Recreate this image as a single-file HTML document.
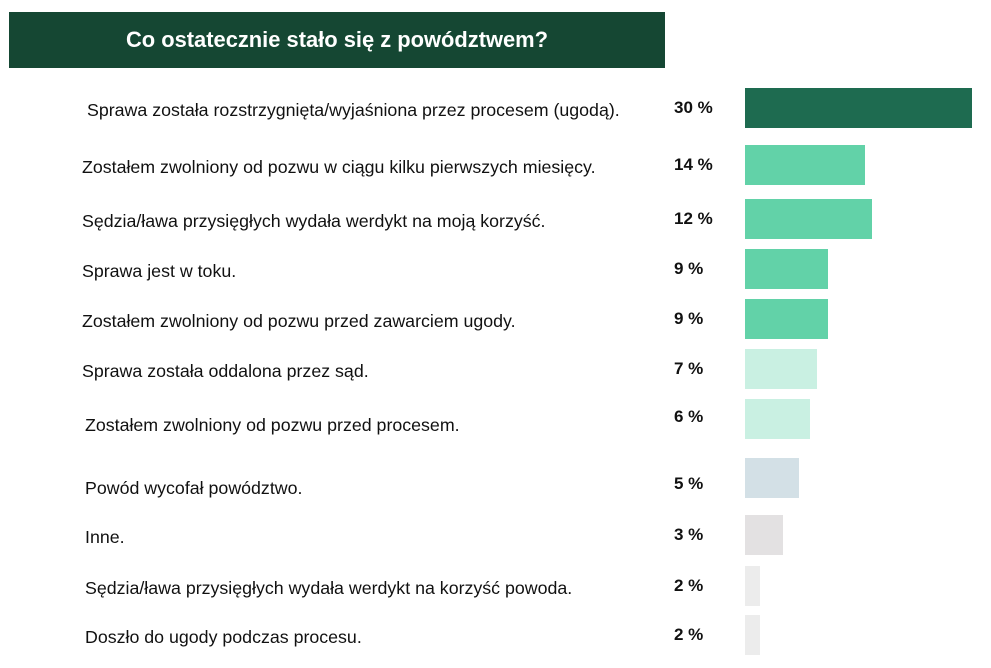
<!DOCTYPE html>
<html><head><meta charset="utf-8">
<style>
body{margin:0;width:991px;height:668px;background:#fff;position:relative;overflow:hidden;font-family:"Liberation Sans",sans-serif;}
#title{position:absolute;left:9px;top:12px;width:656px;height:56px;background:#154733;color:#fff;font-weight:bold;font-size:21.9px;line-height:56px;text-align:center;}
.lbl{position:absolute;font-size:17.8px;color:#111;white-space:nowrap;}
.pct{position:absolute;font-size:17px;font-weight:bold;color:#111;}
.bar{position:absolute;}
</style></head><body>
<div id="title">Co ostatecznie stało się z powództwem?</div>
<div id="chart"></div>
<script>
const categories=["Sprawa została rozstrzygnięta/wyjaśniona przez procesem (ugodą).","Zostałem zwolniony od pozwu w ciągu kilku pierwszych miesięcy.","Sędzia/ława przysięgłych wydała werdykt na moją korzyść.","Sprawa jest w toku.","Zostałem zwolniony od pozwu przed zawarciem ugody.","Sprawa została oddalona przez sąd.","Zostałem zwolniony od pozwu przed procesem.","Powód wycofał powództwo.","Inne.","Sędzia/ława przysięgłych wydała werdykt na korzyść powoda.","Doszło do ugody podczas procesu."];
const pctLabels=["30 %","14 %","12 %","9 %","9 %","7 %","6 %","5 %","3 %","2 %","2 %"];
const barValues=[30,15.8,16.8,11,11,9.5,8.6,7.2,5,2,2];
const colors=["#1e6b50","#62d2a8","#62d2a8","#62d2a8","#62d2a8","#c9f0e2","#c9f0e2","#d3e0e6","#e3e1e2","#ececec","#ececec"];
const rowTops=[88,145,199,249,299,349,399,458,515,566,615];
const labelX=[87,82,82,82,82,82,85,85,85,85,85];
const x0=745, xScale=v=>v*227/30;
const chart=document.getElementById('chart');
categories.forEach((c,i)=>{
  const top=rowTops[i];
  const l=document.createElement('div');l.className='lbl';
  
  
  l.style.left=labelX[i]+'px';l.style.top=(top+12+(i==6?4:0)+(i==7?8:0))+'px';l.textContent=c;chart.appendChild(l);
  const p=document.createElement('div');p.className='pct';
  
  
  p.style.left='674px';p.style.top=(top+10+(i==6?-2:0)+(i==7?6:0))+'px';p.textContent=pctLabels[i];chart.appendChild(p);
  const b=document.createElement('div');b.className='bar';
  
  
  b.style.left=x0+'px';b.style.top=top+'px';b.style.height='40px';
  b.style.width=xScale(barValues[i])+'px';b.style.background=colors[i];chart.appendChild(b);
});
</script>
</body></html>
